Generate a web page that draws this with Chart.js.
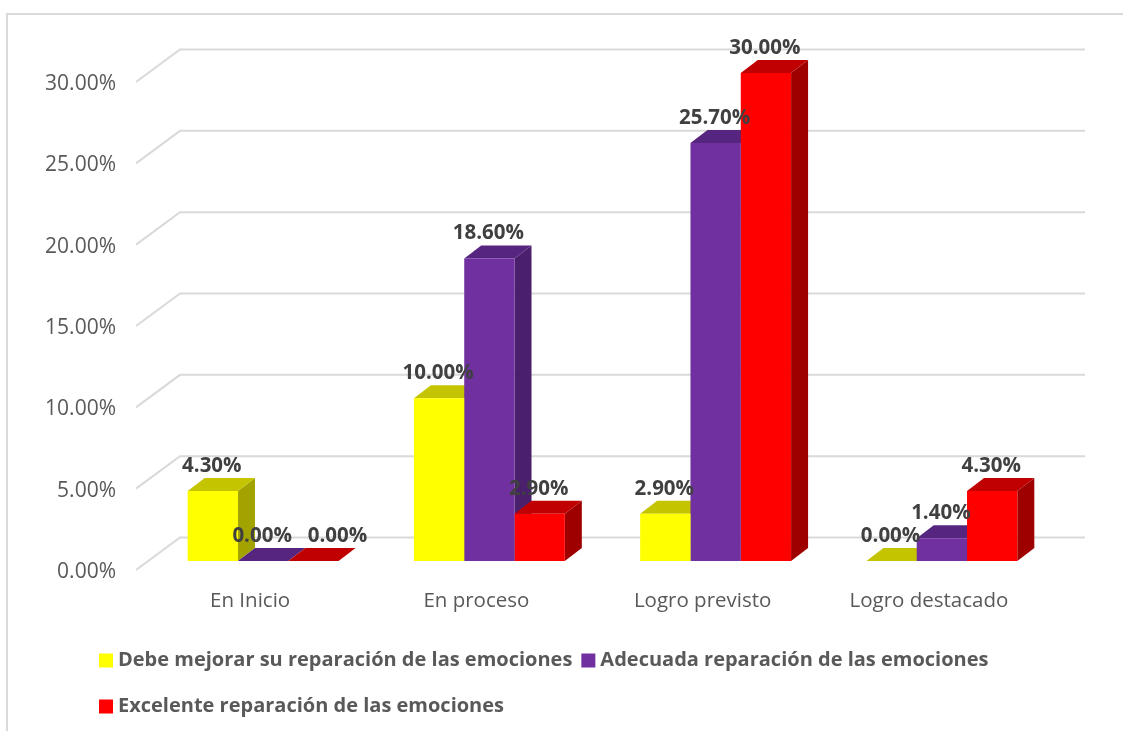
<!DOCTYPE html>
<html>
<head>
<meta charset="utf-8">
<style>
  html, body { margin: 0; background: #fff; overflow: hidden; }
  #wrap { position: absolute; left: 0; top: 0; width: 1123px; height: 731px; }
  #frame { position: absolute; left: 6px; top: 13px; width: 1117px; height: 718px; border-left: 2px solid #D9D9D9; border-top: 2px solid #D9D9D9; box-sizing: border-box; }
</style>
<script src="https://cdn.jsdelivr.net/npm/chart.js@4"></script>
</head>
<body>
<div id="wrap">
  <div id="frame"></div>
  <canvas id="myChart" width="1123" height="731" style="position:absolute;left:0;top:0"></canvas>
</div>
<script>
const categories = ['En Inicio', 'En proceso', 'Logro previsto', 'Logro destacado'];
const debeMejorar = [4.3, 10.0, 2.9, 0.0];
const adecuada = [0.0, 18.6, 25.7, 1.4];
const excelente = [0.0, 2.9, 30.0, 4.3];
const seriesNames = [
    'Debe mejorar su reparación de las emociones',
    'Adecuada reparación de las emociones',
    'Excelente reparación de las emociones'
];
const yTicks = [0, 5, 10, 15, 20, 25, 30];

const FONT = '"Open Sans", sans-serif';
const front = ['#FFFF00', '#7030A0', '#FF0000'];
const topFace = ['#C4C400', '#562580', '#C00000'];
const sideFace = ['#A3A300', '#4A1F6B', '#9E0000'];
const DX = 17, DY = 13;

function poly(ctx, pts, color) {
    ctx.fillStyle = color;
    ctx.beginPath();
    pts.forEach((p, i) => i ? ctx.lineTo(p[0], p[1]) : ctx.moveTo(p[0], p[1]));
    ctx.closePath();
    ctx.fill();
}

// back wall grid lines and the bar depth faces, under the bars
const depth3d = {
    id: 'depth3d',
    afterLayout(chart) {
        const lg = chart.legend;
        const shift = 99 - lg.left - lg.options.labels.padding;
        lg.left += shift;
        lg.right += shift;
        lg.top = 633;
        lg.legendHitBoxes.forEach(h => { h.left += shift; });
    },
    beforeDatasetsDraw(chart) {
        const ctx = chart.ctx, y = chart.scales.y, area = chart.chartArea;
        ctx.save();
        ctx.strokeStyle = '#D9D9D9';
        ctx.lineWidth = 2;
        yTicks.forEach(v => {
            const py = y.getPixelForValue(v);
            ctx.beginPath();
            ctx.moveTo(area.left - 14, py + 9);
            ctx.lineTo(area.left + 30, py - 23.5);
            ctx.lineTo(area.right + 30, py - 23.5);
            ctx.stroke();
        });
        chart.data.datasets.forEach((ds, d) => {
            chart.getDatasetMeta(d).data.forEach(bar => {
                const l = bar.x - bar.width / 2, r = bar.x + bar.width / 2;
                poly(ctx, [[r, bar.base], [r + DX, bar.base - DY], [r + DX, bar.y - DY], [r, bar.y]], sideFace[d]);
                poly(ctx, [[l, bar.y], [l + DX, bar.y - DY], [r + DX, bar.y - DY], [r, bar.y]], topFace[d]);
            });
        });
        ctx.restore();
    },
    afterDraw(chart) {
        const ctx = chart.ctx;
        ctx.save();
        // legend squares: the library box is stretched to set the row spacing
        chart.legend.legendHitBoxes.forEach((h, i) => {
            ctx.fillStyle = front[i];
            ctx.fillRect(h.left, h.top + h.height / 2 - 7, 14, 14);
        });
        // value labels above each bar
        ctx.font = 'bold 20.5px ' + FONT;
        ctx.fillStyle = '#404040';
        ctx.textAlign = 'center';
        ctx.textBaseline = 'middle';
        chart.data.datasets.forEach((ds, d) => {
            chart.getDatasetMeta(d).data.forEach((bar, i) => {
                const nudge = (d === 2 && i === 0) ? 24 : -1;
                ctx.fillText(ds.data[i].toFixed(2) + '%', bar.x + nudge, bar.y - 25);
            });
        });
        ctx.restore();
    }
};

const ctx = document.getElementById('myChart');
const chart = new Chart(ctx, {
    type: 'bar',
    data: {
        labels: categories,
        datasets: [debeMejorar, adecuada, excelente].map((vals, d) => ({
            label: seriesNames[d],
            data: vals,
            backgroundColor: front[d],
            borderWidth: 0,
            categoryPercentage: 0.667,
            barPercentage: 1
        }))
    },
    options: {
        responsive: false,
        animation: false,
        layout: { padding: { top: 73, right: 68, left: 0, bottom: 0 } },
        scales: {
            x: {
                grid: { display: false },
                border: { display: false },
                ticks: { color: '#595959', font: { family: FONT, size: 20.5 }, labelOffset: -13, padding: 20, maxRotation: 0 },
                afterFit(s) { s.height = 68; }
            },
            y: {
                min: 0,
                max: 30,
                grid: { display: false },
                border: { display: false },
                afterBuildTicks(s) { s.ticks = yTicks.map(v => ({ value: v })); },
                ticks: {
                    color: '#595959',
                    font: { family: FONT, size: 21 },
                    labelOffset: 11,
                    padding: 26,
                    callback: v => v.toFixed(2) + '%'
                },
                afterFit(s) { s.width = 150; }
            }
        },
        plugins: {
            tooltip: { enabled: false },
            legend: {
                position: 'bottom',
                align: 'start',
                labels: {
                    boxWidth: 9,
                    boxHeight: 37,
                    padding: 9,
                    color: '#595959',
                    font: { family: FONT, size: 20, weight: 'bold' },
                    generateLabels(c) {
                        return c.data.datasets.map((ds, i) => ({
                            text: ds.label,
                            fillStyle: 'rgba(0,0,0,0)',
                            strokeStyle: 'rgba(0,0,0,0)',
                            fontColor: '#595959',
                            lineWidth: 0,
                            datasetIndex: i
                        }));
                    }
                }
            }
        }
    },
    plugins: [depth3d]
});
</script>
</body>
</html>
